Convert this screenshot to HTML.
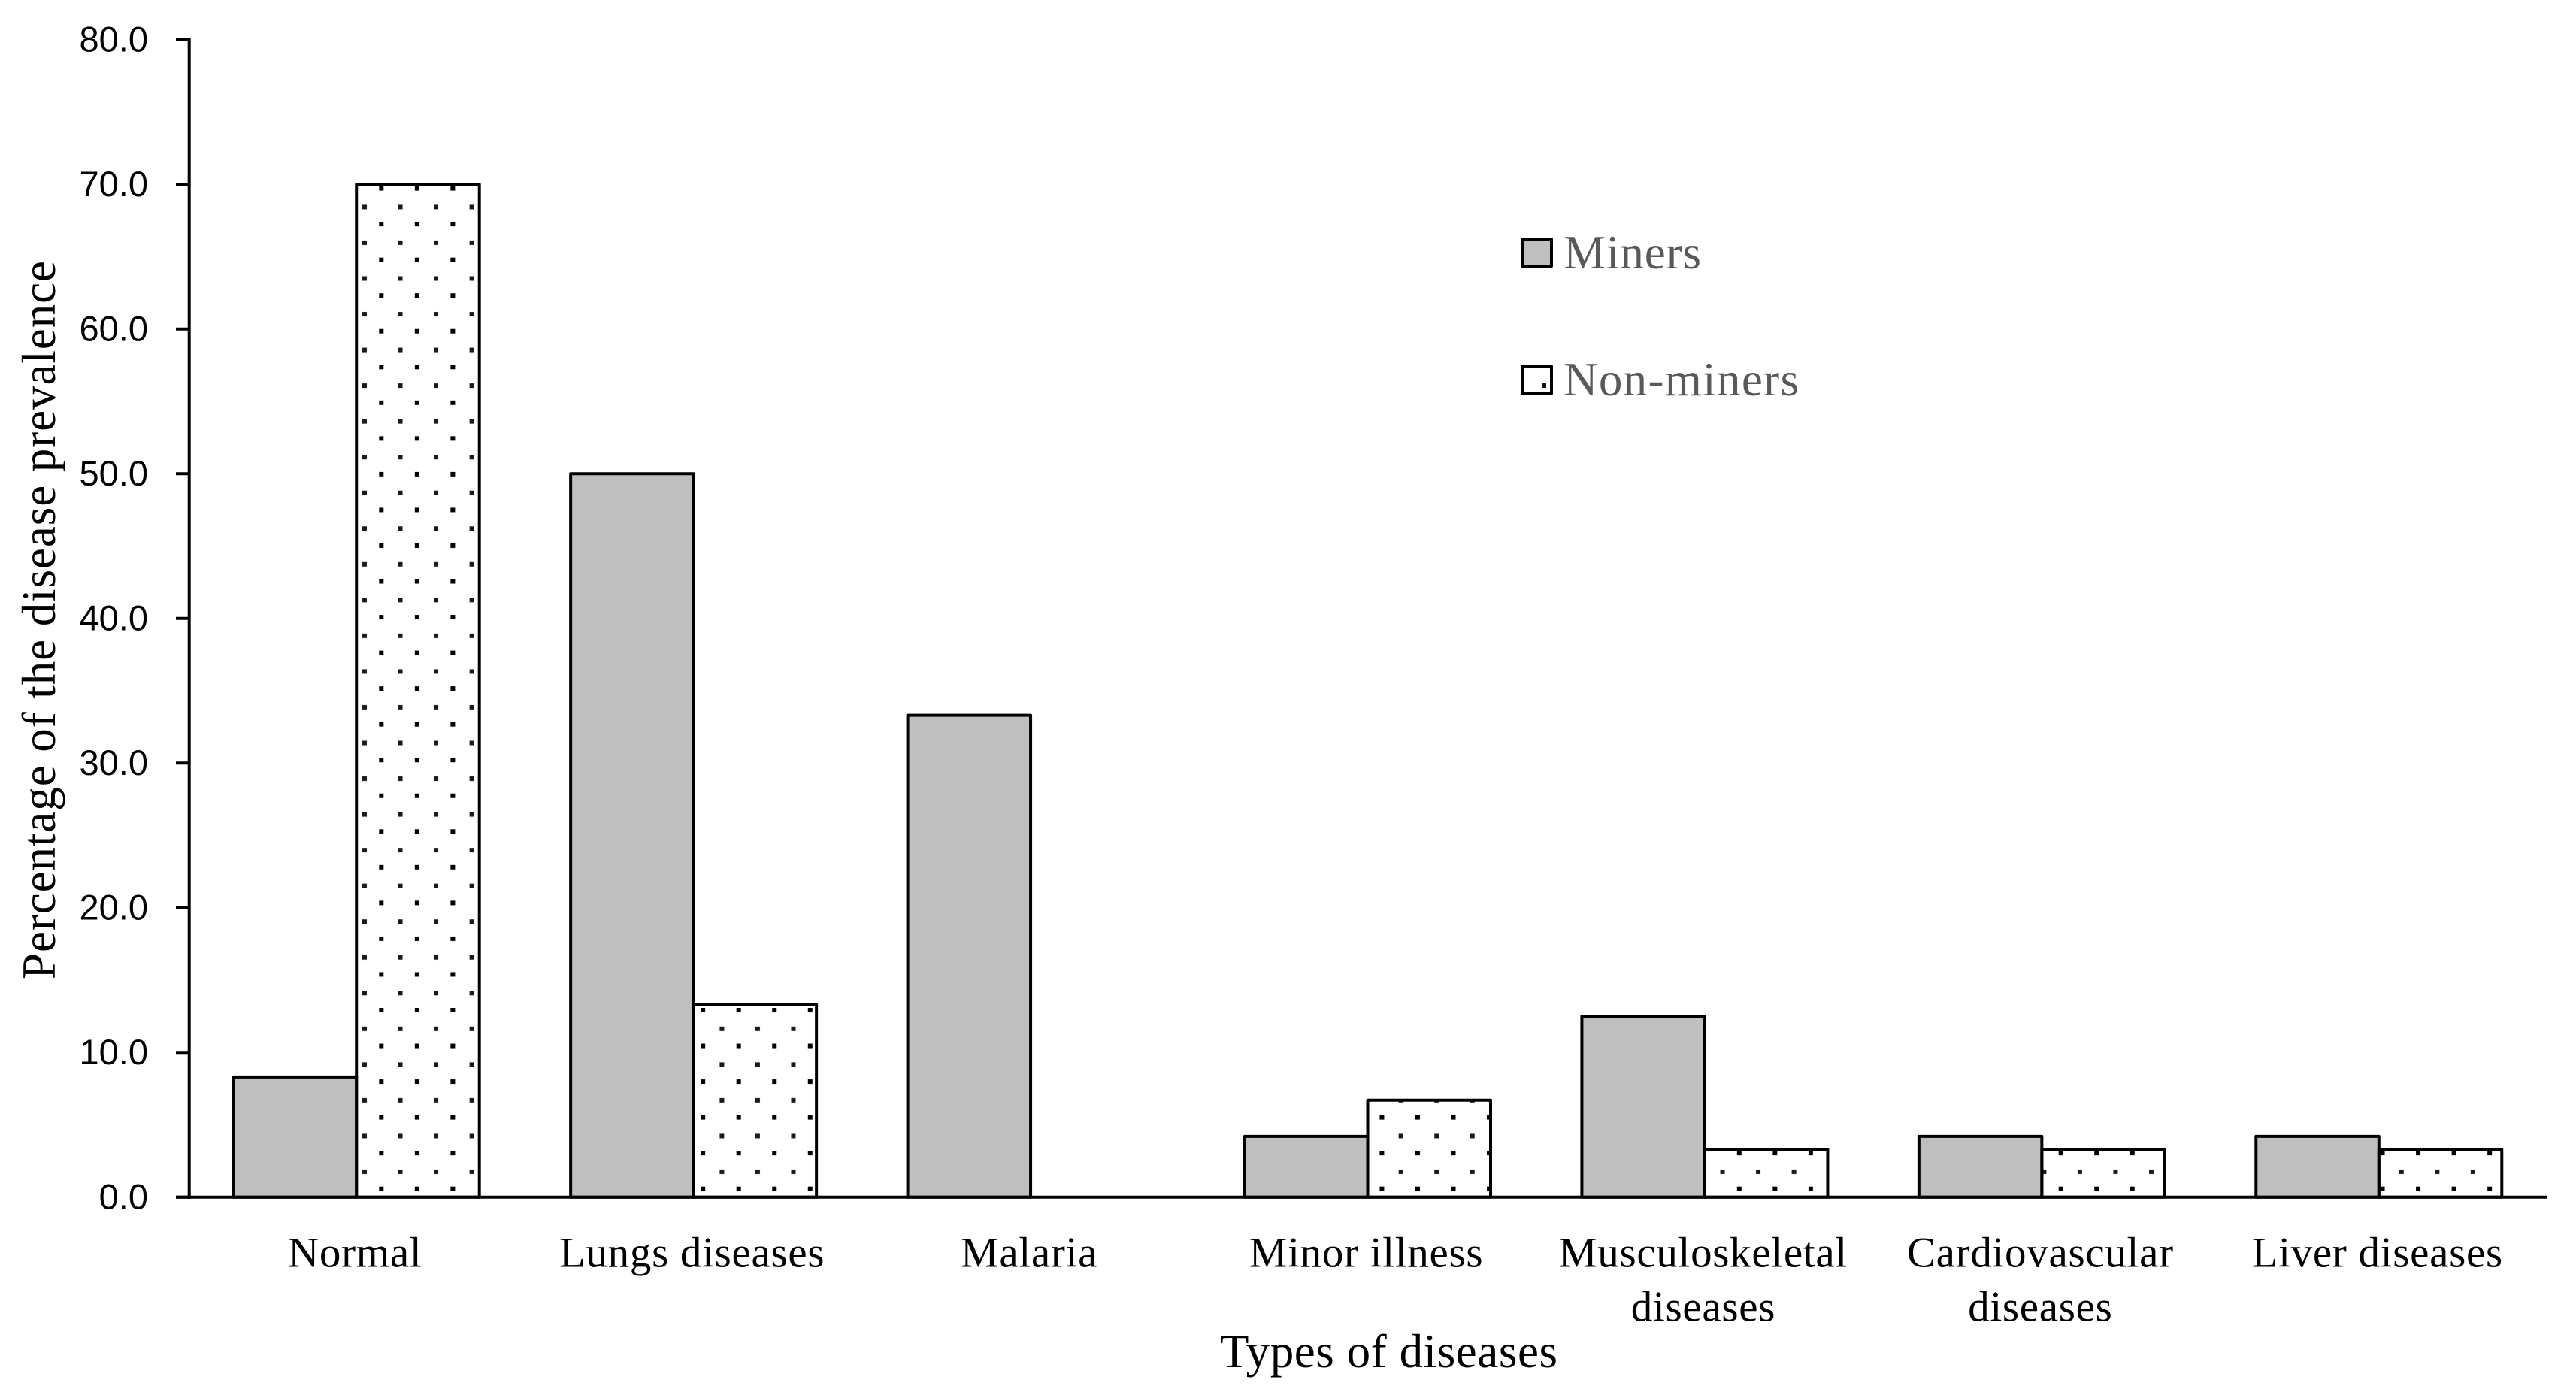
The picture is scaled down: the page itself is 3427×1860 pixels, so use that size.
<!DOCTYPE html>
<html lang="en">
<head>
<meta charset="utf-8">
<title>Percentage of the disease prevalence</title>
<style>
html,body{margin:0;padding:0;background:#fff;}
svg{display:block;}
.cat{font-family:"Liberation Serif",serif;font-size:57px;letter-spacing:0.7px;fill:#000;text-anchor:middle;}
.tick{font-family:"Liberation Sans",sans-serif;font-size:47px;fill:#000;text-anchor:end;}
.title{font-family:"Liberation Serif",serif;font-size:63px;fill:#000;}
.leg{font-family:"Liberation Serif",serif;font-size:63px;fill:#595959;}
</style>
</head>
<body>
<svg id="chart" xmlns="http://www.w3.org/2000/svg" width="3427" height="1860" viewBox="0 0 3427 1860">
  <defs>
    <pattern id="dots" patternUnits="userSpaceOnUse" x="504.3" y="1578.7" width="47.54" height="47.54">
      <rect x="0" y="0" width="6" height="6" fill="#000"/>
      <rect x="25.24" y="24.84" width="6" height="6" fill="#1a1a1a"/>
    </pattern>
  </defs>
  <rect width="3427" height="1860" fill="#fff"/>
  <g id="bars"></g>
  <g id="axes"></g>
  <g id="labels"></g>
  <text class="title" transform="translate(73,1303) rotate(-90)" textLength="956" lengthAdjust="spacing">Percentage of the disease prevalence</text>
  <text class="title" x="1623" y="1819" textLength="449" lengthAdjust="spacing">Types of diseases</text>
  <g>
    <g>
      <rect x="2025" y="318" width="39" height="36" fill="#bfbfbf" stroke="#000" stroke-width="4" stroke-linejoin="round"/>
      <text class="leg" x="2080" y="357" textLength="183" lengthAdjust="spacing">Miners</text>
    </g>
    <g>
      <rect x="2025" y="487.5" width="39" height="36" fill="#fff" stroke="#000" stroke-width="4" stroke-linejoin="round"/>
      <rect x="2051" y="510" width="6" height="6" fill="#111"/>
      <text class="leg" x="2080" y="526" textLength="313" lengthAdjust="spacing">Non-miners</text>
    </g>
  </g>
</svg>
<script>
const categories = [
  ["Normal"],
  ["Lungs diseases"],
  ["Malaria"],
  ["Minor illness"],
  ["Musculoskeletal", "diseases"],
  ["Cardiovascular", "diseases"],
  ["Liver diseases"]
];
const minersValues = [8.3, 50.0, 33.3, 4.2, 12.5, 4.2, 4.2];
const nonMinersValues = [70.0, 13.3, 0, 6.7, 3.3, 3.3, 3.3];
const tickValues = [0, 10, 20, 30, 40, 50, 60, 70, 80];

const NS = "http://www.w3.org/2000/svg";
const plotLeft = 251.7, plotRight = 3389, zeroY = 1592.7, maxY = 52.7, yMax = 80;
const barWidth = 163.5;
const band = (plotRight - 250) / categories.length;
const xCenter = function (i) { return 250 + band * (i + 0.5); };
const yScale = function (v) { return zeroY - (v / yMax) * (zeroY - maxY); };

function node(tag, attrs, parent) {
  const el = document.createElementNS(NS, tag);
  for (const k in attrs) el.setAttribute(k, attrs[k]);
  parent.appendChild(el);
  return el;
}

const barsG = document.getElementById("bars");
function drawBar(value, x, fill, name) {
  if (value <= 0) return;
  const y = yScale(value);
  const bar = node("rect", {
    x: x, y: y, width: barWidth, height: zeroY - y,
    fill: fill, stroke: "#000", "stroke-width": 4, "stroke-linejoin": "round"
  }, barsG);
  
  
}
categories.forEach(function (cat, i) {
  const c = xCenter(i);
  const slug = cat.join("-").toLowerCase().replace(/\s+/g, "-");
  drawBar(minersValues[i], c - barWidth, "#bfbfbf", "bar-miners-" + slug);
  drawBar(nonMinersValues[i], c, "url(#dots)", "bar-non-miners-" + slug);
});

const axesG = document.getElementById("axes");
const yAxis = node("line", { x1: plotLeft, x2: plotLeft, y1: maxY - 2, y2: zeroY + 2, stroke: "#000", "stroke-width": 4 }, axesG);


const xAxis = node("line", { x1: 234, x2: plotRight, y1: zeroY, y2: zeroY, stroke: "#000", "stroke-width": 4 }, axesG);



tickValues.forEach(function (v) {
  const y = yScale(v);
  const tick = node("line", { x1: 234, x2: plotLeft, y1: y, y2: y, stroke: "#000", "stroke-width": 4 }, axesG);
  
  
  const label = node("text", { class: "tick", x: 197, y: y + 16 }, axesG);
  label.textContent = v.toFixed(1);
  
  
});

const labelsG = document.getElementById("labels");
categories.forEach(function (cat, i) {
  cat.forEach(function (line, j) {
    const t = node("text", { class: "cat", x: xCenter(i) - 2, y: 1685.5 + j * 72 }, labelsG);
    t.textContent = line;
    
    
  });
});
</script>
</body>
</html>
